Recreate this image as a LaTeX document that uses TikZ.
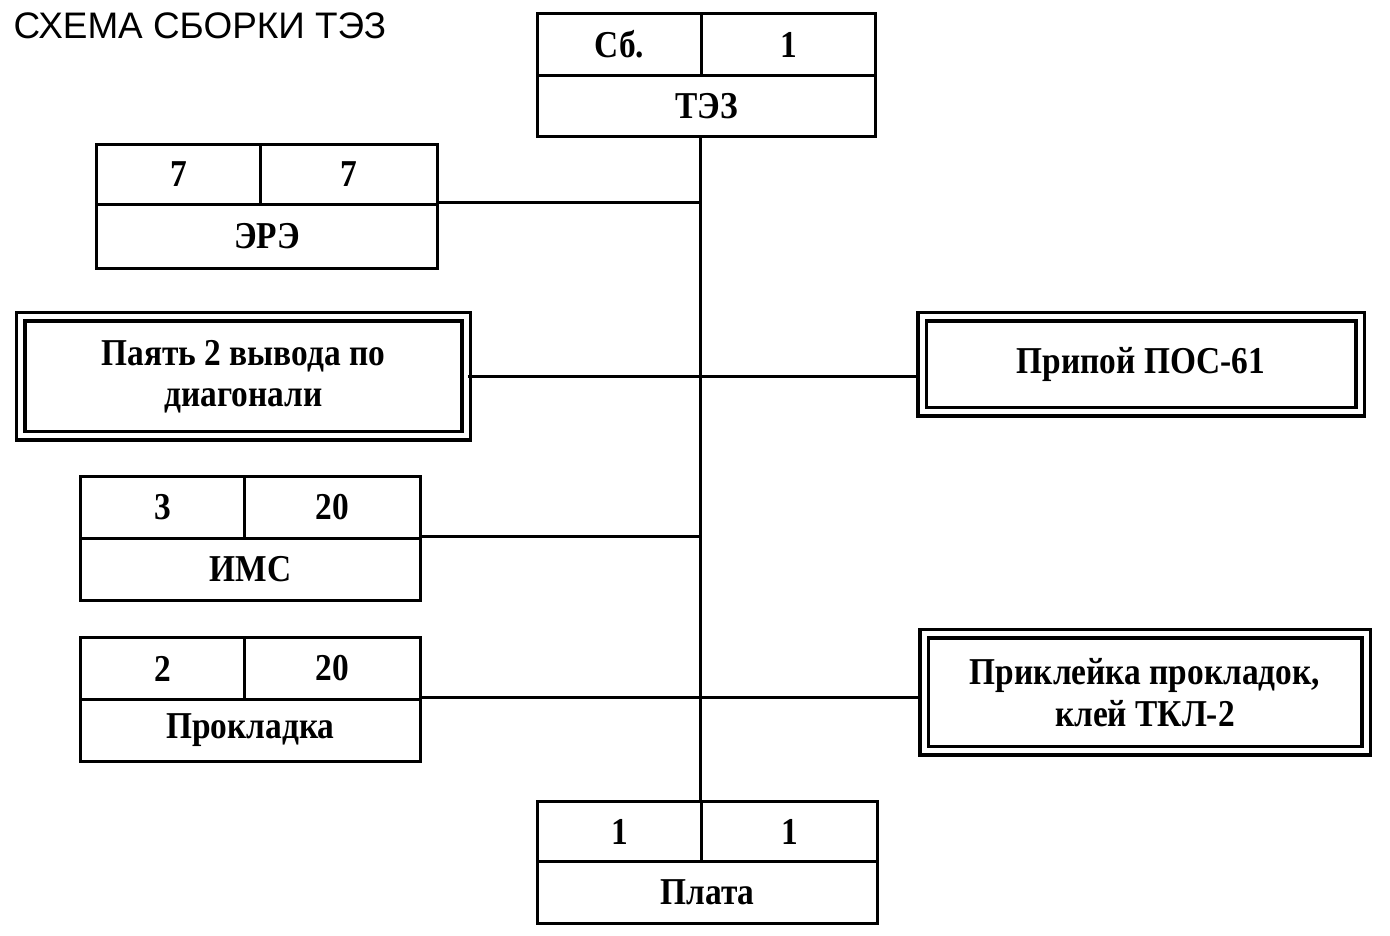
\documentclass[tikz,border=0pt]{standalone}
\usepackage{fontspec}
\setmainfont{Liberation Serif}[FakeStretch=0.88]
\setsansfont{Liberation Sans}

\tikzset{
  cell/.style={draw, line width=0.03cm, inner sep=0pt, anchor=north west,
    font=\bfseries\fontsize{10.8}{11.8}\selectfont},
  opbox/.style={draw, double, line width=0.035cm, double distance=0.05cm,
    inner sep=0pt, align=center, font=\bfseries\fontsize{10.8}{11.8}\selectfont},
  link/.style={line width=0.03cm},
}

\begin{document}
\begin{tikzpicture}
\useasboundingbox (0,0) rectangle (13.9,-9.36);

% Title
\node[anchor=north west, inner sep=0pt, font=\sffamily\fontsize{10.5}{12}\selectfont] (title) at (0.13,-0.12) {СХЕМА СБОРКИ ТЭЗ};

% Assembly unit
\node[cell, minimum width=1.64cm, minimum height=0.62cm] (tez-sb) at (5.36,-0.12) {Сб.};
\node[cell, minimum width=1.74cm, minimum height=0.62cm] (tez-n) at (7.00,-0.12) {1};
\node[cell, minimum width=3.38cm, minimum height=0.61cm] (tez) at (5.36,-0.74) {ТЭЗ};

% Parts
\node[cell, minimum width=1.64cm, minimum height=0.60cm] (ere-a) at (0.95,-1.43) {7};
\node[cell, minimum width=1.77cm, minimum height=0.60cm] (ere-b) at (2.59,-1.43) {7};
\node[cell, minimum width=3.41cm, minimum height=0.64cm] (ere) at (0.95,-2.03) {ЭРЭ};

\node[cell, minimum width=1.64cm, minimum height=0.62cm] (ims-a) at (0.79,-4.75) {3};
\node[cell, minimum width=1.76cm, minimum height=0.62cm] (ims-b) at (2.43,-4.75) {20};
\node[cell, minimum width=3.40cm, minimum height=0.62cm] (ims) at (0.79,-5.37) {ИМС};

\node[cell, minimum width=1.64cm, minimum height=0.62cm] (prokl-a) at (0.79,-6.36) {2};
\node[cell, minimum width=1.76cm, minimum height=0.62cm] (prokl-b) at (2.43,-6.36) {20};
\node[cell, minimum width=3.40cm, minimum height=0.62cm] (prokl) at (0.79,-6.98) {Прокладка};

\node[cell, minimum width=1.64cm, minimum height=0.60cm] (plata-a) at (5.36,-8.00) {1};
\node[cell, minimum width=1.76cm, minimum height=0.60cm] (plata-b) at (7.00,-8.00) {1};
\node[cell, minimum width=3.40cm, minimum height=0.62cm] (plata) at (5.36,-8.60) {Плата};

% Operations
\node[opbox, minimum width=4.45cm, minimum height=1.19cm] (payat) at (2.435,-3.765) {Паять 2 вывода по\\диагонали};
\node[opbox, minimum width=4.38cm, minimum height=0.95cm] (pripoj) at (11.41,-3.645) {Припой ПОС-61};
\node[opbox, minimum width=4.42cm, minimum height=1.17cm] (prikl) at (11.45,-6.925) {Приклейка прокладок,\\клей ТКЛ-2};

% Connectors
\draw[link] (tez.south -| tez-n.west) -- (plata-b.north west);
\draw[link] (ere.north east) -- (ere.north east -| tez-n.west);
\draw[link] (payat.east) -- (pripoj.west |- payat.east);
\draw[link] (ims.north east) -- (ims.north east -| tez-n.west);
\draw[link] (prokl.north east) -- (prikl.west |- prokl.north east);
\end{tikzpicture}
\end{document}
